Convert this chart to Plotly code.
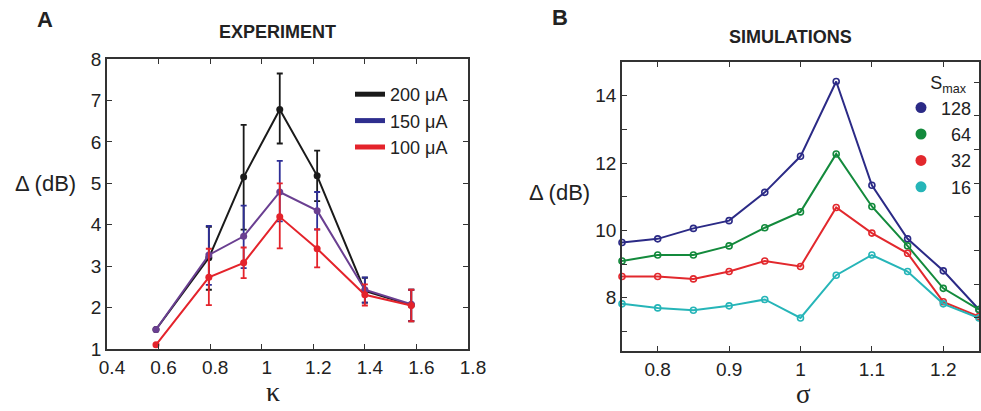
import plotly.graph_objects as go

# ---------------- Panel A: experiment ----------------
kappa = [0.59, 0.795, 0.93, 1.07, 1.215, 1.40, 1.58]

d200 = [1.47, 3.20, 5.15, 6.78, 5.18, 2.40, 2.06]
d200_hi = [1.47, 3.95, 6.41, 7.65, 5.79, 2.72, 2.43]
d200_lo = [1.47, 2.43, 3.88, 5.96, 4.57, 2.12, 1.67]

d150 = [1.47, 3.27, 3.72, 4.79, 4.34, 2.43, 2.08]
d150_hi = [1.47, 3.97, 4.46, 5.54, 4.79, 2.73, 2.43]
d150_lo = [1.47, 2.55, 2.95, 4.08, 3.88, 2.12, 1.68]

d100 = [1.10, 2.73, 3.08, 4.19, 3.42, 2.31, 2.05]
d100_hi = [1.10, 3.42, 3.45, 5.00, 3.89, 2.56, 2.43]
d100_lo = [1.10, 2.06, 2.71, 3.43, 2.97, 2.05, 1.67]

exp_names = ["200 \u03bcA", "150 \u03bcA", "100 \u03bcA"]

# ---------------- Panel B: simulations ----------------
sigma = [0.75, 0.80, 0.85, 0.90, 0.95, 1.00, 1.05, 1.10, 1.15, 1.20, 1.25]
s128 = [9.64, 9.75, 10.06, 10.29, 11.13, 12.20, 14.42, 11.34, 9.75, 8.80, 7.65]
s64 = [9.09, 9.27, 9.27, 9.54, 10.08, 10.55, 12.27, 10.71, 9.54, 8.28, 7.65]
s32 = [8.63, 8.63, 8.56, 8.78, 9.09, 8.93, 10.68, 9.92, 9.32, 7.88, 7.44]
s16 = [7.82, 7.70, 7.63, 7.76, 7.95, 7.40, 8.67, 9.27, 8.78, 7.82, 7.40]
sim_names = ["128", "\u200764", "\u200732", "\u200716"]

W, H = 981, 411
FONT = "Liberation Sans, Arial, sans-serif"
SERIF = "Liberation Serif, Times New Roman, serif"


def px(x):
    return x / W


def py(y):
    return 1 - y / H


fig = go.Figure()


def err(hi, lo, y):
    return dict(type="data", symmetric=False,
                array=[h - v for h, v in zip(hi, y)],
                arrayminus=[v - l for l, v in zip(lo, y)],
                thickness=1.8, width=3)


exp_series = [
    (d200, d200_hi, d200_lo, "#1a1a1a", "#1a1a1a", "#1a1a1a"),
    (d150, d150_hi, d150_lo, "#6a3f91", "#2e2e96", "#2e2e8e"),
    (d100, d100_hi, d100_lo, "#e4232b", "#e4232b", "#e4232b"),
]
for (y, hi, lo, lc, ec, legc), nm in zip(exp_series, exp_names):
    e = err(hi, lo, y)
    e["color"] = ec
    fig.add_trace(go.Scatter(
        x=kappa, y=y, mode="lines+markers", xaxis="x", yaxis="y",
        line=dict(color=lc, width=2),
        marker=dict(color=lc, size=7),
        error_y=e, showlegend=False, cliponaxis=False))
for (y, hi, lo, lc, ec, legc), nm in zip(exp_series, exp_names):
    fig.add_trace(go.Scatter(
        x=[None], y=[None], mode="lines", xaxis="x", yaxis="y",
        line=dict(color=legc, width=5), name=nm, legend="legend"))

sim_series = [(s128, "#2b2a86"), (s64, "#138a3c"), (s32, "#e2282d"), (s16, "#26b5b8")]
for (y, c) in sim_series:
    fig.add_trace(go.Scatter(
        x=sigma, y=y, mode="lines+markers", xaxis="x2", yaxis="y2",
        line=dict(color=c, width=2),
        marker=dict(symbol="circle-open", color=c, size=6, line=dict(width=1.6)),
        showlegend=False, cliponaxis=False))
for (y, c), nm in zip(sim_series, sim_names):
    fig.add_trace(go.Scatter(
        x=[None], y=[None], mode="markers", xaxis="x2", yaxis="y2",
        marker=dict(color=c, size=11), name=nm, legend="legend2"))
# helper trace so the offset right-hand tick axis is drawn
fig.add_trace(go.Scatter(x=[None], y=[None], xaxis="x2", yaxis="y3",
                         showlegend=False, hoverinfo="skip"))

axis_common = dict(showgrid=False, zeroline=False, showline=True,
                   linecolor="#333333", linewidth=1.5, ticks="inside",
                   ticklen=5, tickwidth=1.2, tickcolor="#333333",
                   automargin=False,
                   tickfont=dict(family=FONT, size=19, color="#222222"))

fig.update_layout(
    width=W, height=H, autosize=False,
    margin=dict(l=0, r=0, t=0, b=0),
    paper_bgcolor="white", plot_bgcolor="white",
    font=dict(family=FONT, color="#222222"),
    xaxis=dict(domain=[px(107), px(468)], anchor="y", range=[0.4, 1.8],
               tickmode="linear", tick0=0.4, dtick=0.2, mirror="ticks",
               ticklabelshift=5, **axis_common),
    yaxis=dict(domain=[py(349), py(59)], anchor="x", range=[1, 8],
               tickmode="linear", tick0=1, dtick=1, mirror="ticks",
               **axis_common),
    xaxis2=dict(domain=[px(622), px(979)], anchor="y2", range=[0.75, 1.25],
                tickmode="array", tickvals=[0.8, 0.9, 1.0, 1.1, 1.2],
                ticktext=["0.8", "0.9", "1", "1.1", "1.2"], mirror="ticks",
                **axis_common),
    yaxis2=dict(domain=[py(351), py(62)], anchor="x2", range=[6.42, 15.0],
                tickmode="linear", tick0=8, dtick=2, mirror=True,
                minor=dict(ticks="inside", ticklen=5, tickwidth=1.2,
                           tickcolor="#333333", dtick=1, tick0=0),
                **axis_common),
    yaxis3=dict(overlaying="y2", anchor="x2", side="right",
                range=[6.42 - 0.4, 15.0 - 0.4], tickmode="linear", tick0=0,
                dtick=1, ticks="inside", ticklen=5, tickwidth=1.2,
                tickcolor="#333333", showticklabels=False, showgrid=False,
                zeroline=False, showline=False, automargin=False),
    legend=dict(x=px(350), y=py(76), xanchor="left", yanchor="top",
                bgcolor="rgba(0,0,0,0)", borderwidth=0, tracegroupgap=0,
                font=dict(family=FONT, size=18, color="#222222")),
    legend2=dict(x=px(901), y=py(66), xanchor="left", yanchor="top",
                 bgcolor="rgba(0,0,0,0)", borderwidth=0, tracegroupgap=0,
                 title=dict(text="\u2007\u2007\u2009\u2009S<sub>max</sub>", side="top",
                            font=dict(family=FONT, size=18, color="#222222")),
                 font=dict(family=FONT, size=18, color="#222222")),
)

ann = [
    dict(text="<b>A</b>", x=px(45), y=py(19), yanchor="middle", font=dict(size=22)),
    dict(text="<b>B</b>", x=px(560), y=py(18), yanchor="middle", font=dict(size=22)),
    dict(text="<b>EXPERIMENT</b>", x=px(277), y=py(32), yanchor="middle", font=dict(size=18)),
    dict(text="<b>SIMULATIONS</b>", x=px(790), y=py(37), yanchor="middle", font=dict(size=18)),
    dict(text="\u0394 (dB)", x=px(45), y=py(183), yanchor="middle", font=dict(size=22)),
    dict(text="\u0394 (dB)", x=px(559), y=py(192), yanchor="middle", font=dict(size=22)),
    dict(text="\u03ba", x=px(273), y=py(409), yanchor="bottom", font=dict(size=28, family=SERIF)),
    dict(text="\u03c3", x=px(803), y=py(411), yanchor="bottom", font=dict(size=27, family=SERIF)),
]
for a in ann:
    f = dict(family=FONT, color="#222222")
    f.update(a.pop("font"))
    fig.add_annotation(xref="paper", yref="paper", showarrow=False,
                       xanchor="center", font=f, **a)

fig.write_html(
    "out.html",
    config={"displayModeBar": False},
    post_script="document.body.style.margin='0px';document.body.style.padding='0px';",
)
